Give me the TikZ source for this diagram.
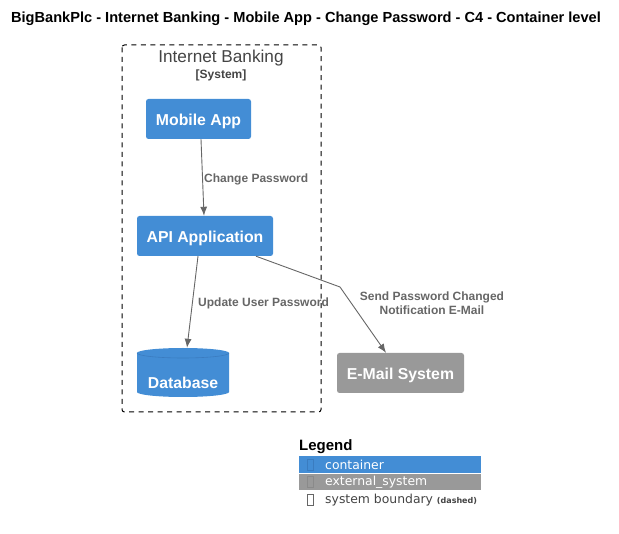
\documentclass[tikz,border=0pt]{standalone}
\usepackage{fontspec}
\setmainfont{Liberation Sans}
\newfontfamily\legendfont{DejaVu Sans}
\usetikzlibrary{positioning,arrows.meta}
\definecolor{containerblue}{HTML}{438DD5}
\definecolor{containerdark}{HTML}{3A7CC0}
\definecolor{extgray}{HTML}{999999}
\definecolor{extdark}{HTML}{8A8A8A}
\definecolor{linegray}{HTML}{666666}
\definecolor{textgray}{HTML}{444444}

\tikzset{
  container/.style={fill=containerblue, rounded corners=2.5pt, text=white, inner sep=0pt,
    text height=13pt, text depth=0pt, font=\fontsize{15.8}{18}\selectfont\bfseries},
  extsystem/.style={container, fill=extgray},
  rel/.style={->, draw=linegray, line width=0.9pt},
  rellabel/.style={text=linegray, inner sep=0pt, align=center,
    font=\fontsize{12}{14.5}\selectfont\bfseries},
  legendrow/.style={anchor=west, inner sep=0pt, font=\legendfont\fontsize{12.4}{14}\selectfont},
  legendbox/.style={draw, line width=0.5pt, minimum width=6pt, minimum height=11pt, inner sep=0pt}
}

\begin{document}
\begin{tikzpicture}[>={Latex[length=9pt,width=7pt]}, x=1pt, y=-1pt]
    \useasboundingbox (0,0) rectangle (619,534);
    % title
    \node[font=\fontsize{14.6}{17}\selectfont\bfseries] (title) at (306,19)
      {BigBankPlc - Internet Banking - Mobile App - Change Password - C4 - Container level};

    % system boundary
    \draw[black, line width=1pt, dash pattern=on 5pt off 4.5pt, rounded corners=2.5pt]
      (122,45) rectangle (321,412);
    \node[text=textgray, font=\fontsize{17.2}{19}\selectfont, inner sep=0pt] (sysname) at (221,58.5) {Internet Banking};
    \node[text=textgray, font=\fontsize{12}{14}\selectfont\bfseries, inner sep=0pt] (systype) at (221,75) {[System]};

    % containers
    \node[container, minimum width=105pt, minimum height=40pt] (mobile) at (198.5,119) {Mobile App};
    \node[container, minimum width=136pt, minimum height=40pt] (api) at (205,236) {API Application};
    \node[inner sep=0pt, minimum width=92pt, minimum height=49pt] (db) at (183,372.5) {};
    \fill[containerblue] (137,353) -- (137,392) arc[start angle=180, end angle=0, x radius=46, y radius=5]
      -- (229,353) arc[start angle=0, end angle=-180, x radius=46, y radius=5] -- cycle;
    \draw[containerdark, line width=0.6pt] (137,353) arc[start angle=180, end angle=0, x radius=46, y radius=5];
    \node[text=white, font=\fontsize{15.8}{18}\selectfont\bfseries, inner sep=0pt] (dbname) at (183,383) {Database};
    \node[extsystem, minimum width=127pt, minimum height=40pt] (mail) at (400.5,373) {E-Mail System};

    % relations
    \draw[rel] ([xshift=2.5pt]mobile.south) -- ([xshift=-1pt]api.north);
    \node[rellabel, anchor=west] (lbl1) at (204,179) {Change Password};
    \draw[rel] ([xshift=-7pt]api.south) -- ([xshift=4pt]db.north);
    \node[rellabel, anchor=west] (lbl2) at (198,303) {Update User Password};
    \coordinate (bend) at (340,287);
    \draw[rel] ([xshift=51pt]api.south) -- (bend) -- ([xshift=-14.5pt]mail.north);
    \node[rellabel] (lbl3) at (432,303) {Send Password Changed\\Notification E-Mail};

    % legend
    \node[font=\fontsize{15}{17}\selectfont\bfseries, anchor=west, inner sep=0pt] (legend) at (299,447) {Legend};
    \fill[containerblue] (299,456) rectangle (481,473);
    \fill[extgray] (299,474) rectangle (481,490);
    \node[legendbox, draw=containerdark] (icon1) at (310,465) {};
    \node[legendbox, draw=extdark] (icon2) at (310,482) {};
    \node[legendbox, draw=linegray] (icon3) at (310,500) {};
    \node[legendrow, text=white] (leg1) at (325,465) {container};
    \node[legendrow, text=white] (leg2) at (325,482) {external\_system};
    \node[legendrow, text=textgray] (leg3) at (325,500)
      {system boundary {\fontsize{8}{10}\selectfont\bfseries (dashed)}};
  \end{tikzpicture}
\end{document}
